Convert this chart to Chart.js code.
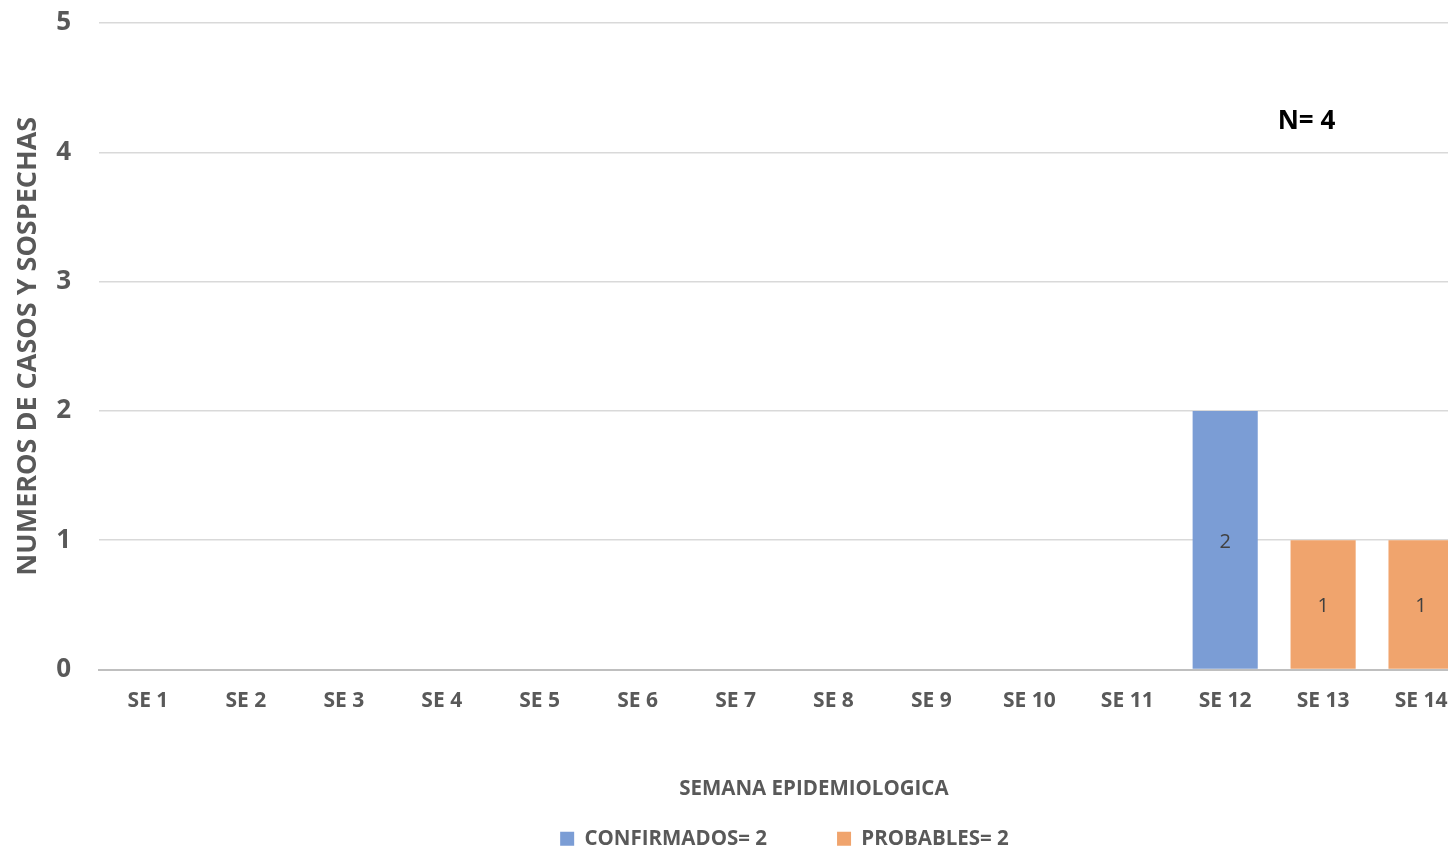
<!DOCTYPE html>
<html>
<head>
<meta charset="utf-8">
<script src="https://cdn.jsdelivr.net/npm/chart.js@4"></script>
<style>
  html, body { margin: 0; padding: 0; background: #fff; overflow: hidden; }
  #wrap { position: absolute; left: 0; top: 0; width: 1470px; height: 849px; }
</style>
</head>
<body>
<div id="wrap"><canvas id="casosChart" width="1470" height="849"></canvas></div>
<script>
var semanas = ["SE 1", "SE 2", "SE 3", "SE 4", "SE 5", "SE 6", "SE 7", "SE 8", "SE 9", "SE 10", "SE 11", "SE 12", "SE 13", "SE 14"];
var confirmados = [null, null, null, null, null, null, null, null, null, null, null, 2, null, null];
var probables = [null, null, null, null, null, null, null, null, null, null, null, null, 1, 1];
var yTicks = [0, 1, 2, 3, 4, 5];
var totalN = "N= 4";
var tituloX = "SEMANA EPIDEMIOLOGICA";

const gris = "#595959";
const fuente = "'Open Sans', 'DejaVu Sans', sans-serif";

// etiquetas de valor, N total y titulo del eje x
const valoresPlugin = {
  id: "valores",
  afterDatasetsDraw(chart) {
    const ctx = chart.ctx;
    const xs = chart.scales.x;
    const ys = chart.scales.y;
    ctx.save();
    ctx.font = "20px " + fuente;
    ctx.fillStyle = "#404040";
    ctx.textAlign = "center";
    ctx.textBaseline = "middle";
    chart.data.datasets.forEach((ds, i) => {
      chart.getDatasetMeta(i).data.forEach((bar, j) => {
        if (ds.data[j] == null) return;
        const p = bar.getProps(["x", "y", "base"], true);
        ctx.fillText(ds.data[j], p.x, (p.y + p.base) / 2 + 2);
      });
    });
    ctx.font = "bold 26px " + fuente;
    ctx.fillStyle = "#000";
    ctx.fillText(totalN, xs.getPixelForValue(11.83), ys.getPixelForValue(4.24));

    ctx.font = "bold 20.5px " + fuente;
    ctx.fillStyle = gris;
    ctx.fillText(tituloX, xs.getPixelForValue(6.8), xs.bottom + 31);
    ctx.restore();
  }
};

const config_casos = {
  type: "bar",
  data: {
    labels: semanas,
    datasets: [
      {
        label: "CONFIRMADOS= 2",
        backgroundColor: "#7b9dd5",
        data: confirmados,
      },
      {
        label: "PROBABLES= 2",
        backgroundColor: "#f0a46d",
        data: probables,
      },
    ],
  },
  options: {
    responsive: false,
    animation: false,
    layout: { padding: { top: 23, right: 0, left: 0, bottom: -10 } },
    datasets: { bar: { barPercentage: 0.665, categoryPercentage: 1.0 } },
    scales: {
      x: {
        stacked: true,
        grid: { display: false, drawTicks: false },
        border: { color: "#bfbfbf", width: 2 },
        ticks: { color: gris, font: { family: fuente, size: 21, weight: "bold" }, padding: 19, maxRotation: 0 },
        afterFit(scale) { scale.height = 89; },
      },
      y: {
        stacked: true,
        min: 0,
        max: 5,
        afterBuildTicks(scale) { scale.ticks = yTicks.map(v => ({ value: v })); },
        grid: { color: "#d9d9d9", lineWidth: 1.5, drawTicks: false },
        border: { display: false },
        ticks: { color: gris, font: { family: fuente, size: 26, weight: "bold" }, padding: 28 },
        title: {
          display: true,
          text: "NUMEROS DE CASOS Y SOSPECHAS",
          color: gris,
          font: { family: fuente, size: 27, weight: "bold" },
          padding: { top: 12, bottom: 0 },
        },
        afterFit(scale) {
          scale.width = 99;
          scale.paddingTop = 0;
          scale.paddingBottom = 0;
        },
      },
    },
    plugins: {
      legend: {
        position: "bottom",
        fullSize: false,
        labels: {
          color: gris,
          font: { family: fuente, size: 20.5, weight: "bold" },
          boxWidth: 14,
          boxHeight: 14,
          padding: 70,
        },
      },
      tooltip: { enabled: false },
    },
  },
  plugins: [valoresPlugin],
};

const casosChart = new Chart(document.getElementById("casosChart"), config_casos);
</script>
</body>
</html>
